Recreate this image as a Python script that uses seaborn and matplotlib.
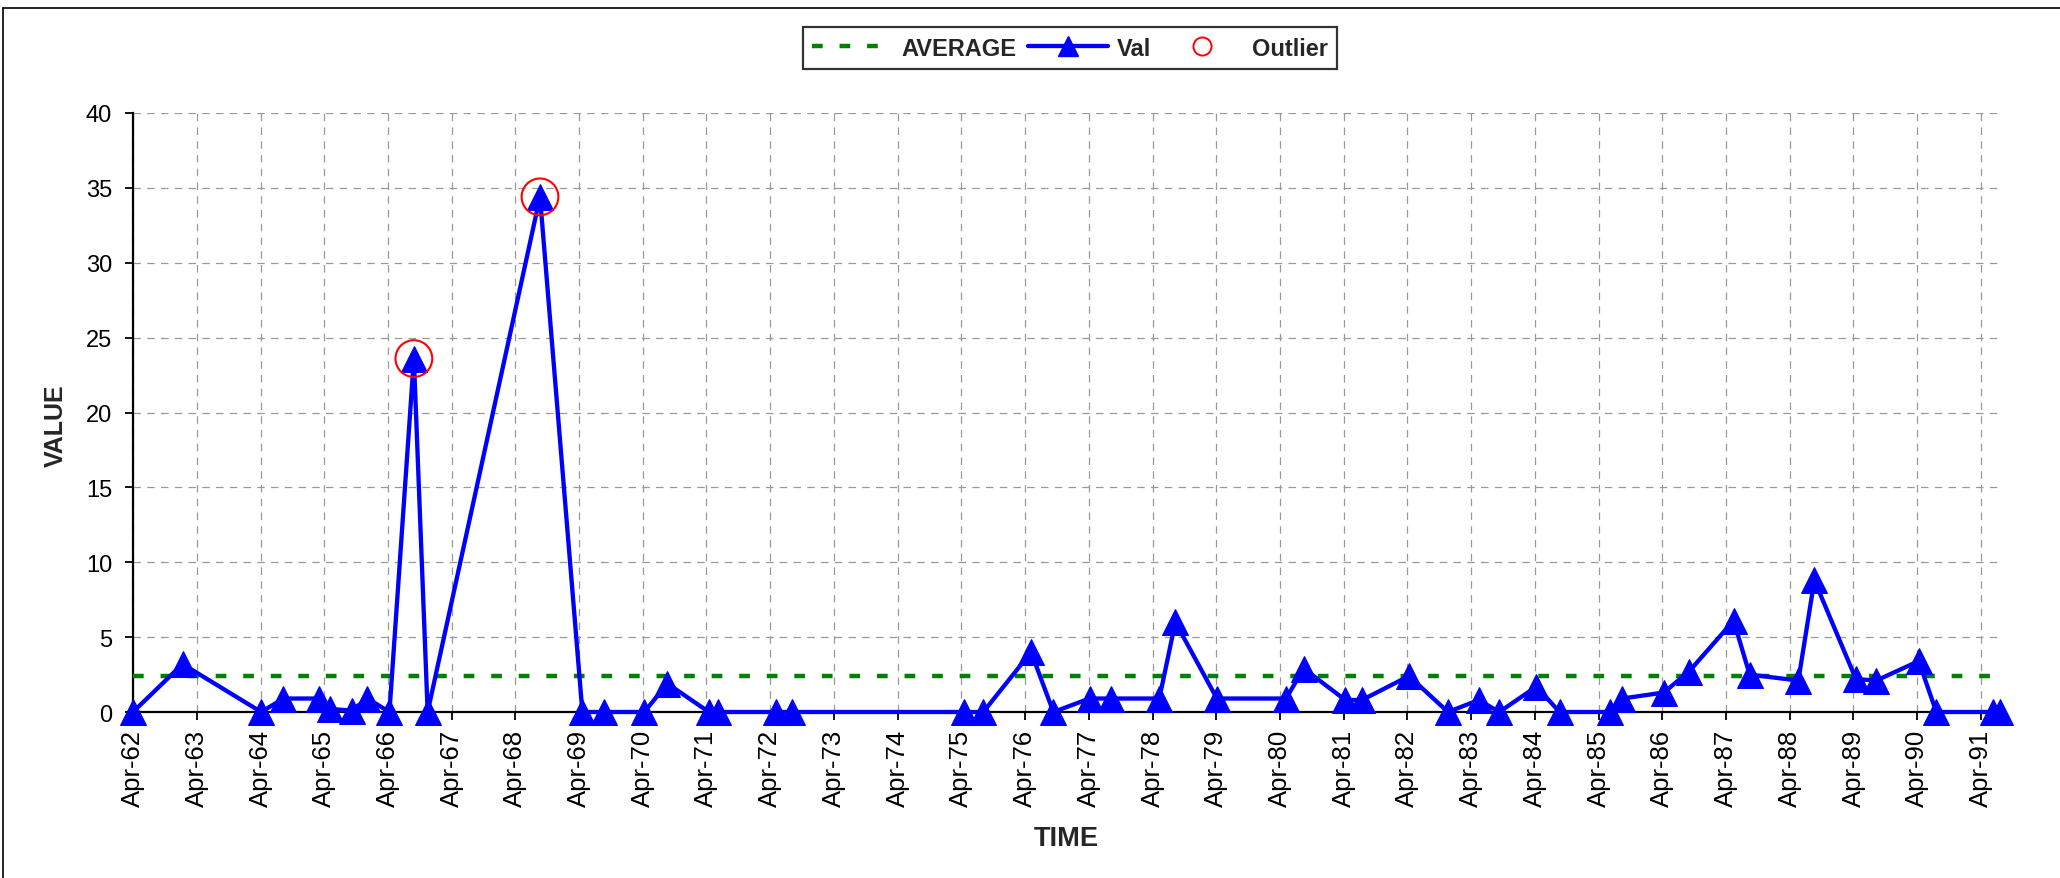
#!/usr/bin/env python3
import numpy as np
import pandas as pd
import matplotlib
matplotlib.use("Agg")
import matplotlib.pyplot as plt
from matplotlib.lines import Line2D
import seaborn as sns

# sample dates and values
dates = pd.to_datetime([
    "1962-04-01", "1963-01-10", "1964-04-05", "1964-08-10", "1965-03-05",
    "1965-05-05", "1965-09-05", "1965-12-05", "1966-04-10", "1966-08-28",
    "1966-11-15", "1968-08-20", "1969-04-20", "1969-08-20", "1970-04-10",
    "1970-08-20", "1971-04-15", "1971-06-05", "1972-05-05", "1972-08-05",
    "1975-04-15", "1975-08-05", "1976-05-05", "1976-09-10", "1977-04-05",
    "1977-08-05", "1978-05-10", "1978-08-10", "1979-04-05", "1980-05-05",
    "1980-08-15", "1981-04-10", "1981-07-15", "1982-04-10", "1982-11-20",
    "1983-05-15", "1983-09-10", "1984-04-10", "1984-08-20", "1985-06-05",
    "1985-08-15", "1986-04-10", "1986-09-01", "1987-05-15", "1987-08-15",
    "1988-05-20", "1988-08-20", "1989-04-15", "1989-08-10", "1990-04-10",
    "1990-07-20", "1991-06-10", "1991-07-20",
])
values = [
    0.0, 3.2, 0.0, 0.9, 0.9,
    0.2, 0.1, 0.9, 0.0, 23.6,
    0.0, 34.4, 0.0, 0.0, 0.0,
    1.9, 0.0, 0.0, 0.0, 0.0,
    0.0, 0.0, 4.0, 0.0, 0.9,
    0.9, 0.9, 6.0, 0.9, 0.9,
    2.9, 0.8, 0.8, 2.4, 0.0,
    0.8, 0.0, 1.7, 0.0, 0.0,
    0.9, 1.3, 2.7, 6.1, 2.5,
    2.1, 8.8, 2.2, 2.1, 3.4,
    0.0, 0.0, 0.0,
]
average = 2.43
outlier_dates = pd.to_datetime(["1966-08-28", "1968-08-20"])
outlier_values = [23.6, 34.4]

tick_dates = pd.date_range("1962-04-01", "1991-04-01", freq=pd.DateOffset(years=1))
tick_labels = [d.strftime("%b-%y") for d in tick_dates]

sns.set_theme(style="white")
plt.rcParams["font.family"] = ["Liberation Sans", "DejaVu Sans"]

W, H = 2060, 879
fig = plt.figure(figsize=(W / 100, H / 100), dpi=100)
ax = fig.add_axes([133 / W, 1 - 713 / H, (2000 - 133) / W, (713 - 114) / H])

# average line
sns.lineplot(x=dates, y=[average] * len(dates), ax=ax, color="#008000",
             lw=3.2, legend=False, zorder=3)
ax.lines[-1].set_dashes([2.4, 3.8])

# values
sns.lineplot(x=dates, y=values, ax=ax, color="#0000FF", lw=3.1, marker="^",
             markersize=19, markeredgecolor="#0000FF", sort=False,
             estimator=None, legend=False, zorder=4, clip_on=False)

# outliers
sns.scatterplot(x=outlier_dates, y=outlier_values, ax=ax, marker="o", s=700,
                facecolor="none", edgecolor="red", linewidth=1.5,
                legend=False, zorder=5, clip_on=False)

ax.set_xlim(dates[0], dates[-1])
ax.set_ylim(0, 40)
ax.set_yticks(np.arange(0, 41, 5))
ax.set_xticks(tick_dates)
ax.set_xticklabels(tick_labels, rotation=90)

ax.grid(True, color="#999999", lw=0.9, ls=(0, (6, 5)))
ax.set_axisbelow(True)
for s in ["top", "right"]:
    ax.spines[s].set_visible(False)
for s in ["left", "bottom"]:
    ax.spines[s].set_color("black")
    ax.spines[s].set_linewidth(1.6)
    ax.spines[s].set_zorder(2.5)

ax.tick_params(axis="both", direction="out", length=6, width=1.3,
               colors="black", bottom=True, left=True)
ax.tick_params(axis="y", pad=9, labelsize=17)
ax.tick_params(axis="x", pad=6, labelsize=18.5)

ax.set_xlabel("TIME", fontsize=19.5, fontweight="bold", labelpad=14)
ax.set_ylabel("VALUE", fontsize=18, fontweight="bold")
ax.yaxis.set_label_coords(-0.035, 0.48)

handles = [
    Line2D([], [], color="#008000", lw=3.2, dashes=[2.4, 3.8]),
    Line2D([], [], color="#0000FF", lw=3.1, marker="^", markersize=14),
    Line2D([], [], color="red", ls="none", marker="o", markersize=13,
           markerfacecolor="none", markeredgewidth=1.4),
]
leg = fig.legend(handles, ["AVERAGE", "Val", "Outlier"], loc="center",
                 bbox_to_anchor=(1070 / W, 1 - 49 / H), ncol=3,
                 frameon=True, fancybox=False, edgecolor="black",
                 prop={"weight": "bold", "size": 17}, handlelength=3.4,
                 handletextpad=0.4, columnspacing=0.45, borderpad=0.4)
leg.get_frame().set_linewidth(1.6)

# chart area border (cut off on right and bottom)
fig.add_artist(Line2D([3 / W, 1], [1 - 9 / H, 1 - 9 / H], color="black",
                      lw=1.2, transform=fig.transFigure))
fig.add_artist(Line2D([3 / W, 3 / W], [0, 1 - 9 / H], color="black",
                      lw=1.2, transform=fig.transFigure))

fig.savefig("out.png", dpi=100)
